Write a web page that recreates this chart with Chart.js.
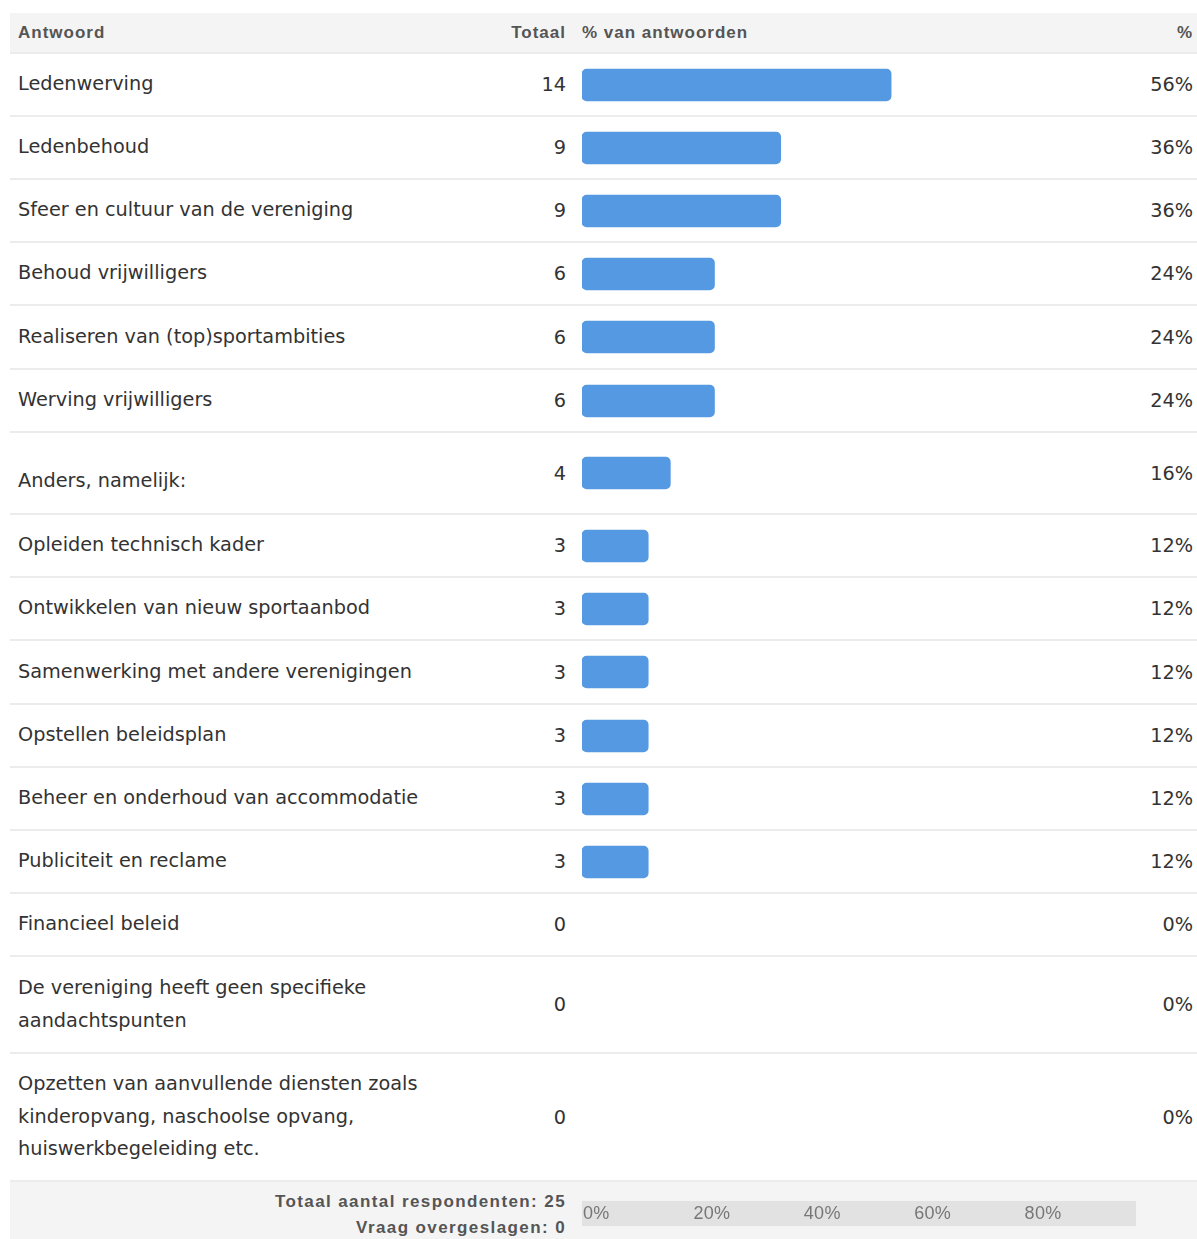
<!DOCTYPE html>
<html>
<head>
<meta charset="utf-8">
<script src="https://cdn.jsdelivr.net/npm/chart.js@4.4.1/dist/chart.umd.min.js"></script>
<style>
  body { margin: 0; background: #fff; font-family: "DejaVu Sans", Verdana, sans-serif; color: #333; }
  #wrap { position: absolute; left: 10px; top: 13px; width: 1187px; }
  table { border-collapse: collapse; width: 1187px; table-layout: fixed; }
  th { background: #f4f4f4; height: 39px; font-family: "Liberation Sans", Arial, sans-serif; font-weight: bold;
       font-size: 17px; color: #555; letter-spacing: 1px; text-align: left; padding: 0; }
  td { font-size: 19.3px; padding: 0; border-top: 2px solid #ececec; vertical-align: middle; }
  .lab { padding-left: 8px; line-height: 32.5px; }
  .tot { text-align: right; padding-right: 6px; }
  .bar { padding-left: 10px; }
  .pct { text-align: right; padding-right: 4px; }
  .cv { position: relative; width: 552px; height: 40px; }
  tfoot td { background: #f4f4f4; border-top: 2px solid #ececec; height: 57px; font-family: "Liberation Sans", Arial, sans-serif;
             font-weight: bold; font-size: 17px; color: #555; letter-spacing: 1.4px; line-height: 26px; vertical-align: top; padding-top: 7px; }
  .axis { position: relative; width: 554px; height: 25px; background: #e2e2e2; margin-top: 12px; letter-spacing: 0.3px; }
  .axis .cv2 { position: absolute; left: 0; top: 0; width: 554px; height: 60px; }
</style>
</head>
<body>
<div id="wrap">
  <table>
    <colgroup><col style="width:490px"><col style="width:72px"><col style="width:568px"><col style="width:57px"></colgroup>
    <thead>
      <tr><th style="padding-left:8px">Antwoord</th><th style="text-align:right;padding-right:6px">Totaal</th>
          <th style="padding-left:10px">% van antwoorden</th><th style="text-align:right;padding-right:4px">%</th></tr>
    </thead>
    <tbody id="rows"></tbody>
    <tfoot>
      <tr><td colspan="2" style="text-align:right;padding-right:6px">Totaal aantal respondenten: 25<br>Vraag overgeslagen: 0</td>
          <td style="padding-left:10px"><div class="axis"><div class="cv2"><canvas id="axisChart"></canvas></div></div></td><td></td></tr>
    </tfoot>
  </table>
</div>
<script>
const answers = [
  "Ledenwerving",
  "Ledenbehoud",
  "Sfeer en cultuur van de vereniging",
  "Behoud vrijwilligers",
  "Realiseren van (top)sportambities",
  "Werving vrijwilligers",
  "Anders, namelijk:",
  "Opleiden technisch kader",
  "Ontwikkelen van nieuw sportaanbod",
  "Samenwerking met andere verenigingen",
  "Opstellen beleidsplan",
  "Beheer en onderhoud van accommodatie",
  "Publiciteit en reclame",
  "Financieel beleid",
  "De vereniging heeft geen specifieke<br>aandachtspunten",
  "Opzetten van aanvullende diensten zoals<br>kinderopvang, naschoolse opvang,<br>huiswerkbegeleiding etc."
];
const totals = [14, 9, 9, 6, 6, 6, 4, 3, 3, 3, 3, 3, 3, 0, 0, 0];
const percents = [56, 36, 36, 24, 24, 24, 16, 12, 12, 12, 12, 12, 12, 0, 0, 0];
const axisTicks = [0, 20, 40, 60, 80];

const rowHeights = [63, 63, 63, 63, 64, 63, 82, 63, 63, 64, 63, 63, 63, 63, 97, 128];
const barColor = "#5599e3";

const tbody = document.getElementById("rows");
answers.forEach((label, i) => {
  const tr = document.createElement("tr");
  tr.style.height = rowHeights[i] + "px";
  const extra = label === "Anders, namelijk:" ? ' style="padding-top:16px"' : "";
  tr.innerHTML =
    `<td class="lab"${extra}>${label}</td><td class="tot">${totals[i]}</td>` +
    `<td class="bar"><div class="cv"><canvas id="bar${i}"></canvas></div></td><td class="pct">${percents[i]}%</td>`;
  tbody.appendChild(tr);
});

answers.forEach((label, i) => {
  new Chart(document.getElementById("bar" + i), {
    type: "bar",
    data: {
      labels: [label],
      datasets: [{
        data: [percents[i]],
        backgroundColor: (c) => (c.raw > 0 ? barColor : "rgba(0,0,0,0)"),
        borderWidth: 0,
        borderRadius: 5,
        borderSkipped: false,
        barThickness: 32
      }]
    },
    options: {
      indexAxis: "y",
      responsive: true,
      maintainAspectRatio: false,
      animation: false,
      layout: { padding: 0 },
      plugins: { legend: { display: false }, tooltip: { enabled: false } },
      scales: {
        x: { display: false, min: 0, max: 100 },
        y: { display: false }
      }
    }
  });
});

// footer percentage axis (canvas taller than the grey band so the scale gets room)
new Chart(document.getElementById("axisChart"), {
  type: "bar",
  data: { labels: [""], datasets: [{ data: [0], backgroundColor: "rgba(0,0,0,0)" }] },
  options: {
    indexAxis: "y",
    responsive: true,
    maintainAspectRatio: false,
    animation: false,
    layout: { padding: { top: 5, left: -3 } },
    plugins: { legend: { display: false }, tooltip: { enabled: false } },
    scales: {
      x: {
        position: "top",
        min: 0,
        max: 100,
        ticks: {
          stepSize: 20,
          align: "start",
          padding: 1,
          color: "#777",
          font: { family: "Liberation Sans", size: 18 },
          callback: (v) => (axisTicks.includes(v) ? v + "%" : "")
        },
        grid: { display: false },
        border: { display: false }
      },
      y: { display: false }
    }
  }
});
</script>
</body>
</html>
